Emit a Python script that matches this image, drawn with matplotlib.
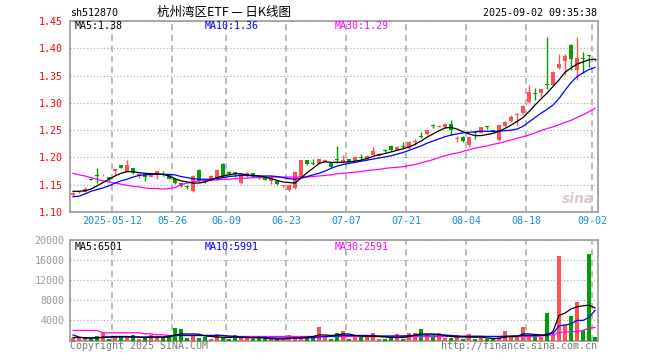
import matplotlib
matplotlib.use("Agg")
import matplotlib.pyplot as plt
import numpy as np

# trading-day slots 0..87 (2025-04-28 .. 2025-09-02)
DATE_LABELS = ["2025-05-12", "05-26", "06-09", "06-23", "07-07", "07-21", "08-04", "08-18", "09-02"]
DATE_POS = [7, 17, 26, 36, 46, 56, 66, 76, 87]

open_ = [1.132, 1.136, 1.137, 1.161, 1.168, 1.167, 1.164, 1.176, 1.186, 1.174,
         1.180, 1.166, 1.170, 1.165, 1.170, 1.169, 1.167, 1.161, 1.153, 1.148,
         1.139, 1.177, 1.160, 1.158, 1.160, 1.188, 1.174, 1.173, 1.153, 1.166,
         1.171, 1.166, 1.164, 1.157, 1.157, 1.147, 1.141, 1.144, 1.165, 1.195,
         1.190, 1.189, 1.192, 1.190, 1.197, 1.191, 1.197, 1.194, 1.201, 1.197,
         1.205, 1.203, 1.213, 1.221, 1.214, 1.221, 1.218, 1.228, 1.239, 1.243,
         1.258, 1.256, 1.256, 1.261, 1.234, 1.238, 1.222, 1.247, 1.245, 1.256,
         1.250, 1.232, 1.257, 1.266, 1.277, 1.281, 1.302, 1.318, 1.318, 1.334,
         1.333, 1.363, 1.377, 1.406, 1.360, 1.383, 1.388, 1.380]
high = [1.137, 1.139, 1.145, 1.162, 1.180, 1.170, 1.165, 1.179, 1.187, 1.195,
        1.181, 1.172, 1.171, 1.172, 1.176, 1.176, 1.168, 1.162, 1.154, 1.150,
        1.167, 1.178, 1.161, 1.167, 1.178, 1.189, 1.176, 1.174, 1.170, 1.173,
        1.172, 1.167, 1.166, 1.167, 1.158, 1.149, 1.151, 1.175, 1.196, 1.196,
        1.198, 1.198, 1.197, 1.191, 1.221, 1.205, 1.198, 1.203, 1.206, 1.204,
        1.220, 1.209, 1.216, 1.222, 1.221, 1.229, 1.230, 1.234, 1.246, 1.251,
        1.261, 1.259, 1.263, 1.269, 1.240, 1.240, 1.239, 1.249, 1.256, 1.258,
        1.251, 1.260, 1.266, 1.277, 1.281, 1.296, 1.333, 1.327, 1.326, 1.421,
        1.358, 1.390, 1.390, 1.407, 1.421, 1.394, 1.388, 1.381]
low = [1.130, 1.135, 1.136, 1.158, 1.153, 1.166, 1.157, 1.168, 1.180, 1.173,
       1.169, 1.163, 1.156, 1.164, 1.160, 1.166, 1.160, 1.151, 1.145, 1.142,
       1.137, 1.155, 1.153, 1.157, 1.159, 1.165, 1.168, 1.165, 1.152, 1.165,
       1.164, 1.160, 1.158, 1.151, 1.150, 1.146, 1.138, 1.142, 1.164, 1.186,
       1.186, 1.188, 1.191, 1.180, 1.189, 1.189, 1.189, 1.193, 1.194, 1.196,
       1.204, 1.202, 1.208, 1.212, 1.213, 1.216, 1.215, 1.223, 1.235, 1.242,
       1.254, 1.255, 1.254, 1.241, 1.229, 1.229, 1.220, 1.234, 1.244, 1.253,
       1.246, 1.231, 1.255, 1.265, 1.260, 1.280, 1.300, 1.305, 1.311, 1.325,
       1.332, 1.362, 1.351, 1.360, 1.342, 1.354, 1.366, 1.377]
close = [1.135, 1.138, 1.143, 1.159, 1.166, 1.168, 1.160, 1.178, 1.181, 1.186,
         1.171, 1.170, 1.165, 1.171, 1.175, 1.167, 1.161, 1.153, 1.147, 1.145,
         1.166, 1.156, 1.155, 1.166, 1.177, 1.166, 1.170, 1.169, 1.169, 1.172,
         1.167, 1.162, 1.159, 1.165, 1.151, 1.148, 1.150, 1.174, 1.195, 1.188,
         1.188, 1.197, 1.196, 1.183, 1.196, 1.195, 1.191, 1.201, 1.199, 1.203,
         1.211, 1.207, 1.211, 1.213, 1.220, 1.219, 1.229, 1.229, 1.238, 1.250,
         1.257, 1.257, 1.262, 1.250, 1.235, 1.231, 1.238, 1.245, 1.255, 1.255,
         1.247, 1.259, 1.265, 1.275, 1.278, 1.294, 1.320, 1.317, 1.325, 1.332,
         1.357, 1.372, 1.385, 1.380, 1.382, 1.381, 1.386, 1.378]

# moving averages as drawn on the source chart
ma5 = [1.138, 1.138, 1.139, 1.142, 1.148, 1.154, 1.160, 1.166, 1.171, 1.174,
       1.174, 1.172, 1.171, 1.170, 1.170, 1.169, 1.166, 1.161, 1.157, 1.155,
       1.153, 1.153, 1.155, 1.159, 1.163, 1.166, 1.168, 1.170, 1.170, 1.168,
       1.167, 1.166, 1.164, 1.161, 1.158, 1.155, 1.154, 1.153, 1.162, 1.172,
       1.180, 1.189, 1.192, 1.191, 1.191, 1.191, 1.192, 1.193, 1.195, 1.198,
       1.202, 1.205, 1.207, 1.210, 1.213, 1.216, 1.219, 1.224, 1.230, 1.237,
       1.243, 1.249, 1.254, 1.255, 1.252, 1.247, 1.243, 1.240, 1.240, 1.242,
       1.244, 1.248, 1.253, 1.259, 1.266, 1.273, 1.284, 1.296, 1.307, 1.318,
       1.330, 1.342, 1.356, 1.364, 1.371, 1.375, 1.379, 1.380]
ma10 = [1.128, 1.129, 1.133, 1.138, 1.141, 1.144, 1.148, 1.153, 1.157, 1.160,
        1.164, 1.167, 1.168, 1.169, 1.169, 1.169, 1.169, 1.168, 1.165, 1.163,
        1.161, 1.160, 1.160, 1.160, 1.161, 1.163, 1.165, 1.166, 1.167, 1.167,
        1.166, 1.166, 1.166, 1.166, 1.165, 1.163, 1.161, 1.160, 1.162, 1.165,
        1.168, 1.171, 1.175, 1.180, 1.184, 1.187, 1.189, 1.191, 1.193, 1.195,
        1.197, 1.199, 1.201, 1.203, 1.206, 1.209, 1.213, 1.217, 1.221, 1.226,
        1.230, 1.234, 1.238, 1.241, 1.243, 1.245, 1.246, 1.247, 1.248, 1.248,
        1.248, 1.248, 1.249, 1.250, 1.252, 1.257, 1.265, 1.273, 1.281, 1.288,
        1.296, 1.308, 1.323, 1.337, 1.348, 1.355, 1.361, 1.365]
ma30 = [1.171, 1.168, 1.166, 1.163, 1.160, 1.157, 1.155, 1.153, 1.151, 1.149,
        1.147, 1.146, 1.144, 1.143, 1.143, 1.142, 1.143, 1.145, 1.150, 1.153,
        1.155, 1.157, 1.158, 1.158, 1.159, 1.160, 1.160, 1.161, 1.162, 1.162,
        1.163, 1.163, 1.163, 1.164, 1.164, 1.164, 1.164, 1.164, 1.164, 1.164,
        1.165, 1.166, 1.167, 1.168, 1.170, 1.171, 1.172, 1.173, 1.174, 1.176,
        1.177, 1.178, 1.180, 1.181, 1.182, 1.183, 1.185, 1.187, 1.190, 1.193,
        1.196, 1.200, 1.203, 1.206, 1.208, 1.211, 1.214, 1.217, 1.219, 1.221,
        1.224, 1.226, 1.229, 1.232, 1.235, 1.238, 1.241, 1.245, 1.249, 1.253,
        1.256, 1.260, 1.264, 1.268, 1.273, 1.278, 1.284, 1.290]

volume = [500, 470, 500, 300, 800, 1470, 200, 600, 800, 600,
          1000, 200, 600, 1000, 650, 600, 800, 2400, 2200, 500,
          800, 400, 600, 300, 1200, 600, 200, 1000, 600, 600,
          200, 600, 200, 200, 200, 250, 1000, 800, 800, 400,
          700, 2600, 700, 200, 1500, 1800, 200, 700, 700, 700,
          1500, 300, 300, 700, 1200, 300, 1400, 1400, 2300, 1000,
          600, 1500, 500, 500, 1000, 300, 1300, 300, 700, 200,
          200, 600, 1800, 700, 700, 2700, 800, 800, 630, 5470,
          1000, 16870, 3130, 4870, 7670, 2000, 17170, 700]
vol_ma5 = [600, 600, 550, 500, 500, 700, 700, 800, 800, 800,
           700, 650, 600, 650, 700, 650, 700, 1100, 1300, 1300,
           1300, 1250, 900, 800, 700, 650, 600, 700, 600, 600,
           500, 600, 450, 350, 300, 300, 400, 500, 600, 650,
           800, 1100, 1100, 1000, 1100, 1300, 1300, 1000, 900, 800,
           800, 800, 700, 600, 600, 600, 800, 1100, 1300, 1300,
           1300, 1200, 1000, 800, 700, 700, 700, 650, 700, 500,
           400, 400, 700, 800, 800, 1300, 1300, 1200, 1100, 1000,
           1800, 4988, 5454, 6268, 6708, 6908, 7028, 6501]
vol_ma10 = [1100, 700, 500, 470, 500, 600, 650, 650, 700, 700,
            700, 700, 700, 700, 700, 700, 900, 1000, 1000, 1000,
            1000, 1000, 1000, 1000, 1000, 1000, 900, 800, 700, 650,
            600, 600, 600, 550, 500, 500, 500, 450, 450, 500,
            550, 700, 800, 800, 900, 1000, 1000, 1000, 1000, 1000,
            1000, 900, 900, 900, 900, 900, 1000, 1000, 1100, 1100,
            1100, 1100, 1100, 1000, 900, 850, 850, 850, 850, 800,
            800, 800, 850, 900, 950, 1000, 1000, 1000, 1000, 1300,
            1400, 2900, 3100, 3300, 4000, 4000, 4600, 5991]
vol_ma30 = [2000, 2000, 2000, 2000, 2000, 1530, 1530, 1530, 1530, 1530,
            1530, 1530, 1330, 1330, 1130, 1130, 1000, 1000, 1000, 1000,
            1000, 1000, 1000, 1000, 1000, 1000, 800, 800, 800, 800,
            800, 800, 800, 800, 800, 800, 800, 800, 800, 800,
            800, 800, 800, 800, 800, 800, 800, 800, 800, 800,
            800, 800, 800, 800, 800, 800, 800, 800, 800, 800,
            800, 800, 800, 800, 800, 800, 800, 800, 800, 800,
            800, 800, 800, 800, 800, 800, 800, 800, 900, 1000,
            1130, 1600, 1670, 1750, 1800, 2000, 2470, 2591]

PRICE_TICKS = [1.10, 1.15, 1.20, 1.25, 1.30, 1.35, 1.40, 1.45]
VOL_TICKS = [4000, 8000, 12000, 16000, 20000]

UP, DOWN = "#ff5252", "#00a000"
FRAME = "#9a9a9a"
W, H = 660, 360


def fx(px):
    return px / W


def fy(py):
    return 1 - py / H


def style_axes(ax):
    for s in ax.spines.values():
        s.set_color(FRAME)
        s.set_linewidth(1.2)
    ax.grid(axis="y", color="#a8a8a8", ls=(0, (1, 2)), lw=0.8)
    for p in DATE_POS:
        ax.axvline(p, color="#a8a8a8", ls=(0, (4, 3)), lw=1.1, zorder=0.5)
    ax.set_xlim(0, len(close))


def main():
    plt.rcParams["font.family"] = ["DejaVu Sans Mono"]
    fig = plt.figure(figsize=(W / 100, H / 100), dpi=100)

    # ---- price panel
    ax = fig.add_axes([fx(70), fy(212), fx(528), 191 / H])
    style_axes(ax)
    ax.set_ylim(1.10, 1.45)
    x = np.arange(len(close)) + 0.5
    o, c, h, l = map(np.array, (open_, close, high, low))
    colors = [UP if cc >= oo else DOWN for oo, cc in zip(o, c)]
    ax.vlines(x, l, h, colors=colors, lw=1.0, zorder=2)
    body = np.maximum(np.abs(c - o), 0.0017)
    ax.bar(x, body, bottom=np.minimum(o, c), width=0.8, color=colors, zorder=3)
    ax.plot(x, ma30, color="#ff00ff", lw=0.9, zorder=4)
    ax.plot(x, ma10, color="#0000ff", lw=0.9, zorder=4)
    ax.plot(x, ma5, color="black", lw=0.9, zorder=4)
    ax.set_yticks(PRICE_TICKS, [f"{t:.2f}" for t in PRICE_TICKS])
    ax.set_xticks(DATE_POS, DATE_LABELS)
    ax.tick_params(axis="y", length=0, pad=5, labelsize=7.2, labelcolor="red")
    ax.tick_params(axis="x", length=0, pad=3, labelsize=7.2, labelcolor="#1a8ad8")
    ax.text(0.962, 0.07, "sina", transform=ax.transAxes, fontsize=10, fontstyle="italic",
            fontweight="bold", color="#dccaca", family="DejaVu Sans", ha="center", va="center", zorder=1)

    # ---- volume panel
    vax = fig.add_axes([fx(70), fy(340.5), fx(528), 100.5 / H])
    style_axes(vax)
    vax.set_ylim(0, 20000)
    vax.bar(x, volume, width=0.8, color=colors, zorder=3)
    vax.plot(x, vol_ma30, color="#ff00ff", lw=0.9, zorder=4)
    vax.plot(x, vol_ma10, color="#0000ff", lw=0.9, zorder=4)
    vax.plot(x, vol_ma5, color="black", lw=0.9, zorder=4)
    vax.set_yticks(VOL_TICKS, [str(t) for t in VOL_TICKS])
    vax.set_xticks(DATE_POS, [""] * len(DATE_POS))
    vax.tick_params(axis="y", length=0, pad=4, labelsize=7.2, labelcolor="#999999")
    vax.tick_params(axis="x", length=0)

    # ---- header and legends
    fs = 7.2
    fig.text(fx(70), fy(13), "sh512870", fontsize=fs, va="center")
    fig.text(fx(224), fy(12.5), "杭州湾区ETF — 日K线图", fontsize=9, ha="center", va="center",
             family=["Noto Sans CJK SC", "DejaVu Sans"])
    fig.text(fx(597), fy(13), "2025-09-02 09:35:38", fontsize=fs, ha="right", va="center")
    for px, txt, col in [(75, "MA5:1.38", "black"), (205, "MA10:1.36", "#0000ff"), (335, "MA30:1.29", "#ff00ff")]:
        fig.text(fx(px), fy(26), txt, fontsize=fs, color=col, va="center")
    for px, txt, col in [(75, "MA5:6501", "black"), (205, "MA10:5991", "#0000ff"), (335, "MA30:2591", "#ff00ff")]:
        fig.text(fx(px), fy(246.5), txt, fontsize=fs, color=col, va="center")
    fig.text(fx(70), fy(346), "Copyright 2025 SINA.COM", fontsize=fs, color="#777777", va="center")
    fig.text(fx(597), fy(346), "http://finance.sina.com.cn", fontsize=fs, color="#777777",
             ha="right", va="center")

    fig.savefig("out.png", dpi=100, facecolor="white")
    plt.close(fig)


if __name__ == "__main__":
    main()
